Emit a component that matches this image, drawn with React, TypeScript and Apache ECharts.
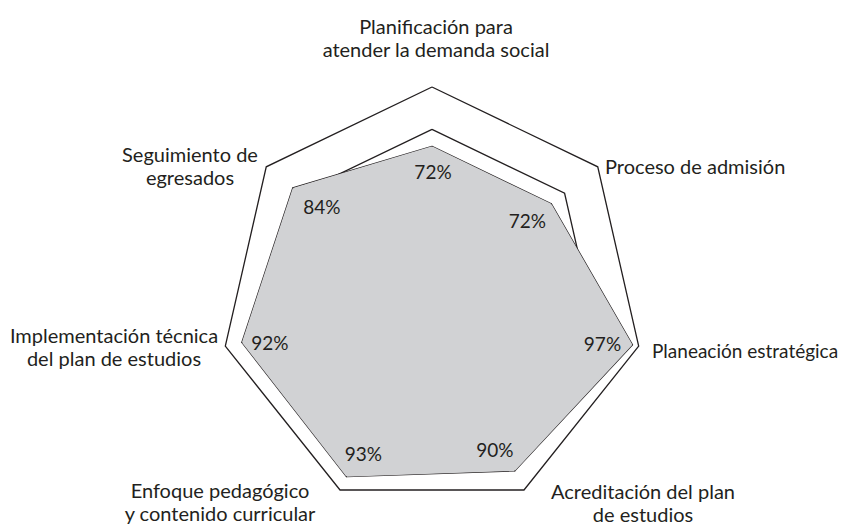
import React, { useEffect, useRef } from "react";
import * as echarts from "echarts";

// Indicators listed counter-clockwise from the top (ECharts radar order)
const CATEGORIES = [
  "Planificación para\natender la demanda social",
  "Seguimiento de\negresados",
  "Implementación técnica\ndel plan de estudios",
  "Enfoque pedagógico\ny contenido curricular",
  "Acreditación del plan\nde estudios",
  "Planeación estratégica",
  "Proceso de admisión",
];
const VALUES = [72, 84, 92, 93, 90, 97, 72];
const AXIS_MAX = 100;

// Layout of the category names (x, y = centre of text block)
const NAME_LAYOUT = [
  { x: 436, y: 37, align: "center", size: 20 },
  { x: 190, y: 165, align: "center", size: 20 },
  { x: 114, y: 346, align: "center", size: 20 },
  { x: 220, y: 501, align: "center", size: 20 },
  { x: 643, y: 502, align: "center", size: 20 },
  { x: 652, y: 350, align: "left", size: 19 },
  { x: 605, y: 166, align: "left", size: 20 },
];
// offset (px) of each value label from its vertex
const LABEL_OFFSET = [
  [1, 25],
  [29, 19],
  [28, 0],
  [17, -23],
  [-20, -21],
  [-30, -1],
  [-24, 17],
];

const CX = 432;
const CY = 299;
const RADIUS = 212;
const INK = "#231f20";
const FONT = "Lato";

export default function App() {
  const ref = useRef<HTMLDivElement>(null);
  useEffect(() => {
    document.body.style.margin = "0";
    const chart = echarts.init(ref.current!, null, { renderer: "svg" });
    const n = CATEGORIES.length;
    chart.setOption({
      animation: false,
      backgroundColor: "#ffffff",
      radar: {
        center: [CX, CY],
        radius: RADIUS,
        startAngle: 90,
        shape: "polygon",
        splitNumber: 5,
        indicator: CATEGORIES.map((name) => ({ name, min: 0, max: AXIS_MAX })),
        axisName: { show: false },
        axisLine: { show: false },
        axisTick: { show: false },
        axisLabel: { show: false },
        splitArea: { show: false },
        splitLine: {
          lineStyle: {
            color: [
              "rgba(0,0,0,0)",
              "rgba(0,0,0,0)",
              "rgba(0,0,0,0)",
              "rgba(0,0,0,0)",
              INK,
              INK,
            ],
            width: 1.3,
          },
        },
      },
      series: [
        {
          type: "radar",
          symbol: "circle",
          symbolSize: 1,
          itemStyle: { color: INK },
          lineStyle: { color: INK, width: 1.3 },
          areaStyle: { color: "#d1d2d4", opacity: 1 },
          label: {
            show: true,
            position: "inside",
            formatter: "{c}%",
            fontFamily: FONT,
            fontSize: 19,
            color: INK,
          },
          labelLayout: (p: any) => {
            const sx = p.rect.x + p.rect.width / 2;
            const sy = p.rect.y + p.rect.height / 2;
            // which indicator: angle counter-clockwise from top
            let ang = Math.atan2(-(sx - CX), CY - sy);
            if (ang < 0) ang += Math.PI * 2;
            const idx = Math.round(ang / ((Math.PI * 2) / n)) % n;
            const [ox, oy] = LABEL_OFFSET[idx];
            return {
              x: sx + ox,
              y: sy + oy,
              align: "center",
              verticalAlign: "middle",
            };
          },
          data: [{ value: VALUES, name: "Porcentaje" }],
        },
      ],
      graphic: CATEGORIES.map((name, i) => ({
        type: "text",
        x: NAME_LAYOUT[i].x,
        y: NAME_LAYOUT[i].y,
        style: {
          text: name,
          font: `${NAME_LAYOUT[i].size}px ${FONT}`,
          fontFamily: FONT,
          fontSize: NAME_LAYOUT[i].size,
          lineHeight: 23,
          fill: INK,
          textAlign: NAME_LAYOUT[i].align,
          align: NAME_LAYOUT[i].align,
          textVerticalAlign: "middle",
          verticalAlign: "middle",
        },
      })),
    });
    return () => chart.dispose();
  }, []);
  return <div ref={ref} style={{ width: 843, height: 525 }} />;
}
